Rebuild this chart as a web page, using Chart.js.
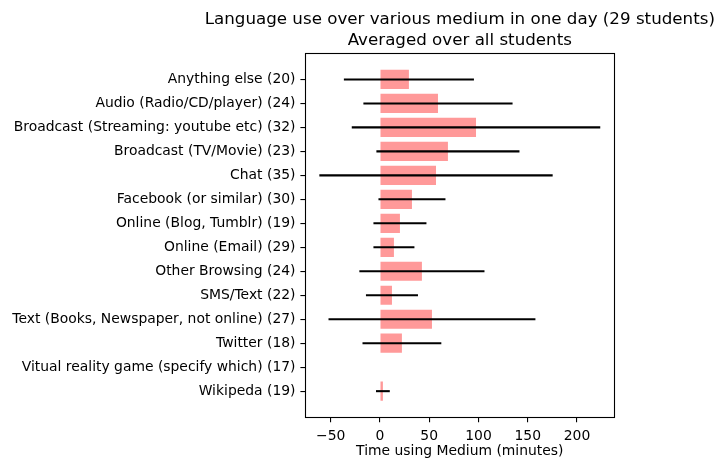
<!DOCTYPE html>
<html><head><meta charset="utf-8">
<script src="https://cdn.jsdelivr.net/npm/chart.js@4"></script>
<style>html,body{margin:0;padding:0;background:#fff}</style>
</head><body>
<canvas id="c" width="723" height="470"></canvas>
<script>
// ---- data ----
const categories = [
  "Anything else (20)",
  "Audio (Radio/CD/player) (24)",
  "Broadcast (Streaming: youtube etc) (32)",
  "Broadcast (TV/Movie) (23)",
  "Chat (35)",
  "Facebook (or similar) (30)",
  "Online (Blog, Tumblr) (19)",
  "Online (Email) (29)",
  "Other Browsing (24)",
  "SMS/Text (22)",
  "Text (Books, Newspaper, not online) (27)",
  "Twitter (18)",
  "Vitual reality game (specify which) (17)",
  "Wikipeda (19)"
];
const meanMinutes = [29.4, 58.9, 97.5, 69.0, 56.9, 32.5, 20.3, 14.2, 42.6, 12.2, 52.8, 22.3, 0, 3.0];
const stdMinutes  = [66.0, 75.7, 126.1, 72.6, 118.4, 34.0, 26.9, 20.8, 63.5, 26.4, 105.0, 40.0, 0, 7.0];
const xTickValues = [-50, 0, 50, 100, 150, 200];
const titleLines = ["Language use over various medium in one day (29 students)", "Averaged over all students"];
const xAxisTitle = "Time using Medium (minutes)";

// ---- axis limits (matplotlib-style 5% margins) ----
const lows = meanMinutes.map((m, i) => m - stdMinutes[i]);
const highs = meanMinutes.map((m, i) => m + stdMinutes[i]);
const dMin = Math.min(0, ...lows), dMax = Math.max(...highs);
const xMin = dMin - 0.05 * (dMax - dMin), xMax = dMax + 0.05 * (dMax - dMin);
const n = categories.length;
const yPad = 0.05 * (n - 1 + 0.8) + 0.4;

const FONT = "'DejaVu Sans', 'Liberation Sans', sans-serif";
Chart.defaults.font.family = FONT;
Chart.defaults.color = '#000';

const errorBarPlugin = {
  id: 'errorBars',
  afterDatasetsDraw(chart) {
    const { ctx, scales: { x, y }, chartArea: a } = chart;
    ctx.save();
    ctx.strokeStyle = '#000';
    ctx.lineWidth = 2.08;
    ctx.lineCap = 'butt';
    meanMinutes.forEach((m, i) => {
      const e = stdMinutes[i];
      if (!e) return;
      const py = y.getPixelForValue(i);
      ctx.beginPath();
      ctx.moveTo(x.getPixelForValue(m - e), py);
      ctx.lineTo(x.getPixelForValue(m + e), py);
      ctx.stroke();
    });
    ctx.lineWidth = 1.1;
    const l = Math.round(a.left) + 0.5, t = Math.round(a.top) + 0.5;
    const r = Math.round(a.right) + 0.5, b = Math.round(a.bottom) + 0.5;
    ctx.strokeRect(l, t, r - l, b - t);
    // two-line title centred over the plot area
    ctx.fillStyle = '#000';
    ctx.font = "16.7px " + FONT;
    ctx.textAlign = 'center';
    ctx.textBaseline = 'alphabetic';
    const cx = (a.left + a.right) / 2;
    ctx.fillText(titleLines[0], cx, 24);
    ctx.fillText(titleLines[1], cx, 45);
    ctx.restore();
  }
};

new Chart(document.getElementById('c'), {
  type: 'bar',
  data: {
    datasets: [{
      data: meanMinutes.map((m, i) => ({ x: m, y: i })),
      backgroundColor: '#ff9999',
      borderWidth: 0,
      barPercentage: 0.8,
      categoryPercentage: 1.0
    }]
  },
  options: {
    indexAxis: 'y',
    responsive: false,
    animation: false,
    layout: { padding: { left: 0, right: 108.7, top: 53.3, bottom: 0 } },
    plugins: {
      legend: { display: false },
      tooltip: { enabled: false },
      title: { display: false }
    },
    scales: {
      x: {
        type: 'linear',
        position: 'bottom',
        offset: false,
        min: xMin,
        max: xMax,
        afterBuildTicks: (s) => { s.ticks = xTickValues.map(v => ({ value: v })); },
        afterFit: (s) => { s.height = 52.7; },
        border: { display: false },
        grid: { display: true, offset: false, drawOnChartArea: false, drawTicks: true, tickLength: 4.9, color: '#000', lineWidth: 1.1 },
        ticks: {
          color: '#000', padding: 5.5, maxRotation: 0, autoSkip: false,
          font: { family: FONT, size: 13.9 },
          callback: (v) => v < 0 ? '\u2212' + Math.abs(v) : String(v)
        },
        title: {
          display: true, text: xAxisTitle, color: '#000',
          font: { family: FONT, size: 13.9 }, padding: { top: 0, bottom: 9.8 }
        }
      },
      y: {
        type: 'linear',
        position: 'left',
        offset: false,
        reverse: true,
        min: -yPad,
        max: n - 1 + yPad,
        afterBuildTicks: (s) => { s.ticks = categories.map((_, i) => ({ value: i })); },
        afterFit: (s) => { s.width = 305.3; },
        border: { display: false },
        grid: { display: true, offset: false, drawOnChartArea: false, drawTicks: true, tickLength: 4.9, color: '#000', lineWidth: 1.1 },
        ticks: {
          color: '#000', padding: 4.9, autoSkip: false,
          font: { family: FONT, size: 13.9 },
          callback: (v) => categories[v]
        }
      }
    }
  },
  plugins: [errorBarPlugin]
});
</script>
</body></html>
